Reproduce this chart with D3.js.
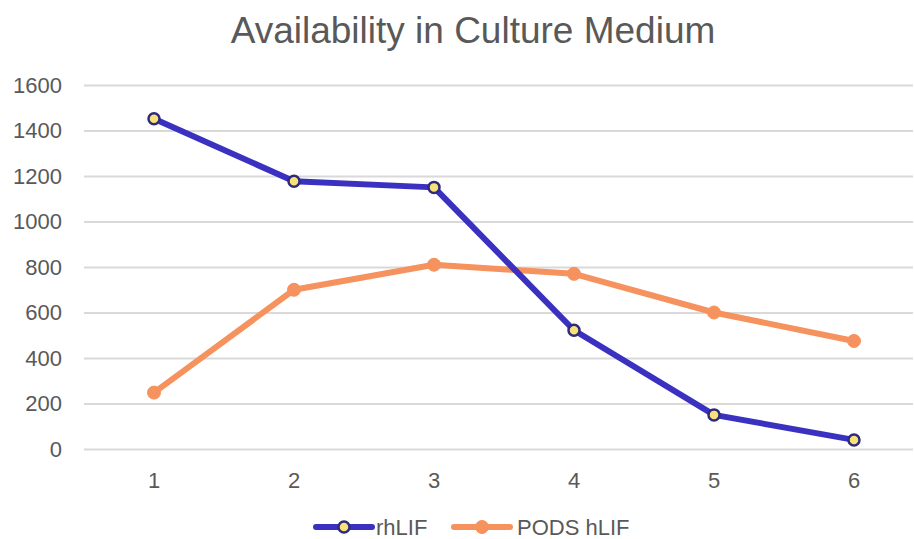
<!DOCTYPE html>
<html>
<head>
<meta charset="utf-8">
<script src="https://cdn.jsdelivr.net/npm/d3@7"></script>
<style>
  body { margin: 0; background: #fff; }
  svg { display: block; }
</style>
</head>
<body>
<script>
const width = 914, height = 539;

const categories = ["1", "2", "3", "4", "5", "6"];
const rhLIF = [1452, 1177, 1150, 522, 150, 40];
const podsHLIF = [248, 700, 810, 770, 600, 475];
const yTicks = [0, 200, 400, 600, 800, 1000, 1200, 1400, 1600];

const series = [
  {name: "rhLIF", values: rhLIF, color: "#3a31c0", marker: "ring"},
  {name: "PODS hLIF", values: podsHLIF, color: "#f5925e", marker: "dot"}
];

const margin = {top: 85, right: -10, bottom: 91, left: 84};

const x = d3.scaleBand()
    .domain(categories)
    .range([margin.left, width - margin.right]);

const y = d3.scaleLinear()
    .domain([0, 1600])
    .range([height - margin.bottom + 1, margin.top]);

const svg = d3.select("body").append("svg")
    .attr("width", width)
    .attr("height", height)
    .attr("font-family", "Arial, 'Liberation Sans', sans-serif");

svg.append("text")
    .attr("x", 473)
    .attr("y", 43)
    .attr("text-anchor", "middle")
    .attr("font-size", 37)
    .attr("fill", "#595959")
    .text("Availability in Culture Medium");

// gridlines + y labels
const yAxis = svg.append("g")
    .attr("transform", `translate(${margin.left},0)`)
    .call(d3.axisLeft(y).tickValues(yTicks).tickFormat(d3.format("d"))
      .tickSize(-(913 - margin.left)).tickPadding(22));
yAxis.select(".domain").remove();
yAxis.selectAll(".tick line").attr("stroke", "#d9d9d9").attr("stroke-width", 2);
yAxis.selectAll(".tick text").attr("fill", "#595959").attr("font-size", 22);

// x labels
const xAxis = svg.append("g")
    .attr("transform", `translate(0,${y(0)})`)
    .call(d3.axisBottom(x).tickSize(0).tickPadding(23));
xAxis.select(".domain").remove();
xAxis.selectAll(".tick text").attr("fill", "#595959").attr("font-size", 22);

const cx = d => x(d) + x.bandwidth() / 2;

const line = d3.line()
    .x((d, i) => cx(categories[i]))
    .y(d => y(d));

// draw orange first so blue sits on top
[series[1], series[0]].forEach(s => {
  svg.append("path")
      .datum(s.values)
      .attr("fill", "none")
      .attr("stroke", s.color)
      .attr("stroke-width", 6)
      .attr("stroke-linejoin", "round")
      .attr("d", line);

  svg.append("g")
      .selectAll("circle")
      .data(s.values)
      .join("circle")
      .attr("cx", (d, i) => cx(categories[i]))
      .attr("cy", d => y(d))
      .attr("r", s.marker === "ring" ? 5.5 : 6.5)
      .attr("fill", s.marker === "ring" ? "#f7e27a" : s.color)
      .attr("stroke", s.marker === "ring" ? "#2f2a7a" : s.color)
      .attr("stroke-width", s.marker === "ring" ? 2.5 : 1);
});

// legend
const legendItems = [
  {s: series[0], x: 316, tx: 376},
  {s: series[1], x: 454, tx: 517}
];
const legend = svg.append("g").attr("transform", "translate(0,527)");
legendItems.forEach(({s, x: lx, tx}) => {
  legend.append("line")
      .attr("x1", lx).attr("x2", lx + 56)
      .attr("stroke", s.color)
      .attr("stroke-width", 6)
      .attr("stroke-linecap", "round");
  legend.append("circle")
      .attr("cx", lx + 28)
      .attr("r", s.marker === "ring" ? 5.5 : 6.5)
      .attr("fill", s.marker === "ring" ? "#f7e27a" : s.color)
      .attr("stroke", s.marker === "ring" ? "#2f2a7a" : s.color)
      .attr("stroke-width", s.marker === "ring" ? 2.5 : 1);
  legend.append("text")
      .attr("x", tx)
      .attr("dy", "0.35em")
      .attr("font-size", 22)
      .attr("fill", "#595959")
      .text(s.name);
});
</script>
</body>
</html>
